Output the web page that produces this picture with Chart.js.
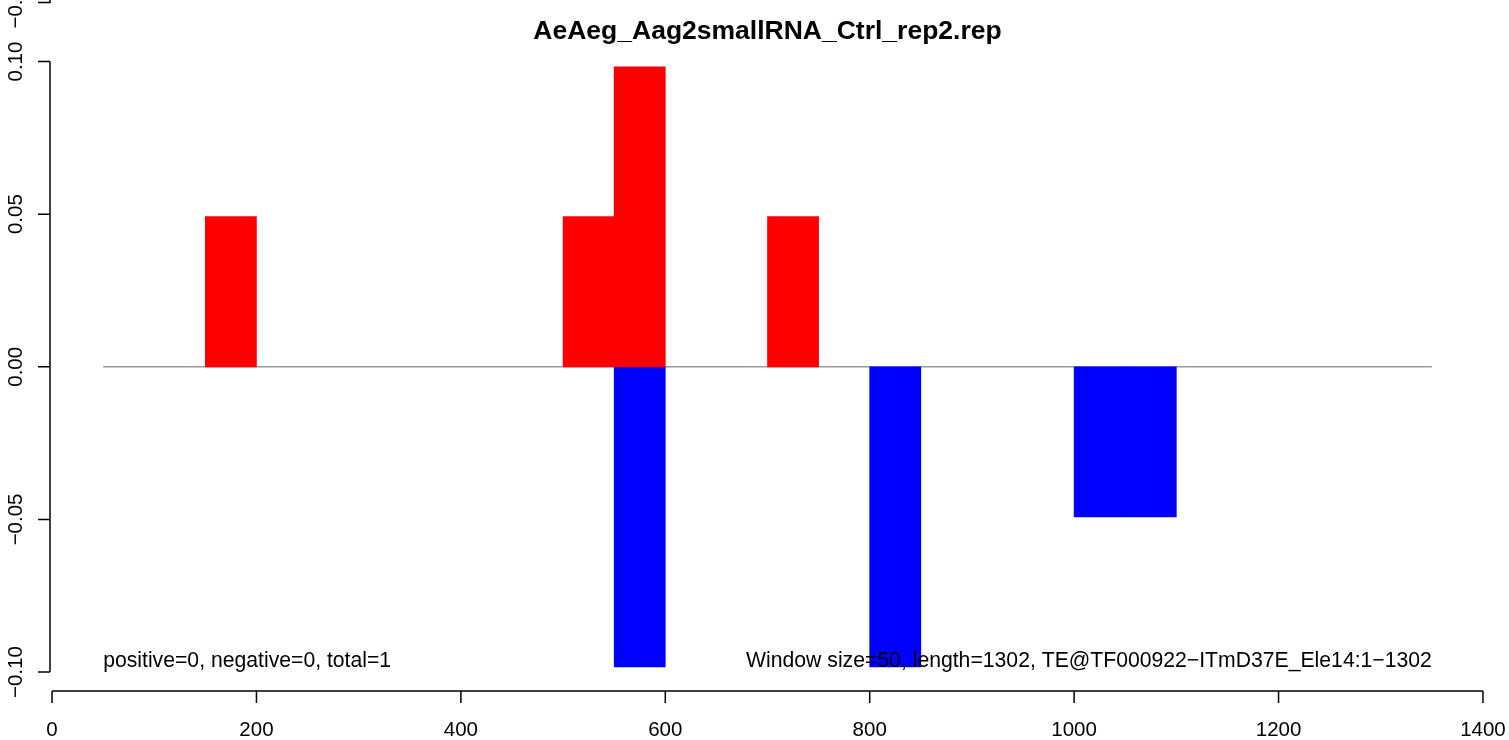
<!DOCTYPE html>
<html><head><meta charset="utf-8">
<script src="https://cdn.jsdelivr.net/npm/chart.js@4/dist/chart.umd.min.js"></script>
<style>html,body{margin:0;padding:0;background:#fff;overflow:hidden;}</style>
</head><body>
<canvas id="c" width="1509" height="740"></canvas>
<script>
// ---- data ----
const chartTitle = 'AeAeg_Aag2smallRNA_Ctrl_rep2.rep';
const windowSize = 50;
const senseStarts = [150, 500, 550, 700];
const senseValues = [0.0492, 0.0492, 0.0983, 0.0492];
const antisenseStarts = [550, 800, 1000, 1050];
const antisenseValues = [-0.0983, -0.0983, -0.0492, -0.0492];
const baselineX = [50, 1350];
const xTickValues = [0, 200, 400, 600, 800, 1000, 1200, 1400];
const xTickLabels = ['0', '200', '400', '600', '800', '1000', '1200', '1400'];
const yTickValues = [-0.10, -0.05, 0, 0.05, 0.10];
const yTickLabels = ['\u22120.10', '\u22120.05', '0.00', '0.05', '0.10'];
const xLimits = [-2, 1402];
const yLimits = [-0.1062, 0.1062];
const leftNote = 'positive=0, negative=0, total=1';
const rightNote = 'Window size=50, length=1302, TE@TF000922\u2212ITmD37E_Ele14:1\u22121302';
const noteAnchorsX = [50, 1350];
const noteAnchorY = -0.0983;
const neighbourTickLabel = '\u22120.10';

const FONT = '"Liberation Sans", Arial, Helvetica, sans-serif';

const toPoints = (starts, vals) => starts.map((s, i) => ({x: s + windowSize / 2, y: vals[i]}));

const rAxes = {
  id: 'rAxes',
  afterDraw(chart) {
    const {ctx, chartArea: ca, scales: {x, y}} = chart;
    ctx.save();
    ctx.strokeStyle = '#000';
    ctx.fillStyle = '#000';
    ctx.lineWidth = 1.5;
    ctx.lineCap = 'butt';
    const tl = 12;
    // x axis
    const yb = ca.bottom;
    ctx.beginPath();
    ctx.moveTo(x.getPixelForValue(xTickValues[0]), yb);
    ctx.lineTo(x.getPixelForValue(xTickValues[xTickValues.length - 1]), yb);
    xTickValues.forEach(v => { const p = x.getPixelForValue(v); ctx.moveTo(p, yb); ctx.lineTo(p, yb + tl); });
    ctx.stroke();
    ctx.font = '20.5px ' + FONT;
    ctx.textAlign = 'center';
    ctx.textBaseline = 'alphabetic';
    xTickValues.forEach((v, i) => ctx.fillText(xTickLabels[i], x.getPixelForValue(v), yb + 45));
    // y axis
    const xl = ca.left;
    ctx.beginPath();
    ctx.moveTo(xl, y.getPixelForValue(yTickValues[0]));
    ctx.lineTo(xl, y.getPixelForValue(yTickValues[yTickValues.length - 1]));
    yTickValues.forEach(v => { const p = y.getPixelForValue(v); ctx.moveTo(xl - tl, p); ctx.lineTo(xl, p); });
    // neighbouring panel's bottom tick, clipped at the top edge
    const gy = ca.top - 40;
    ctx.moveTo(xl - tl, gy); ctx.lineTo(xl, gy); ctx.lineTo(xl, -2);
    ctx.stroke();
    const drawRot = (txt, py) => {
      ctx.save();
      ctx.translate(xl - 28.5, py);
      ctx.rotate(-Math.PI / 2);
      ctx.textAlign = 'center';
      ctx.textBaseline = 'alphabetic';
      ctx.fillText(txt, 0, 0);
      ctx.restore();
    };
    yTickValues.forEach((v, i) => drawRot(yTickLabels[i], y.getPixelForValue(v)));
    drawRot(neighbourTickLabel, gy);
    // notes
    ctx.font = '21.2px ' + FONT;
    const ny = y.getPixelForValue(noteAnchorY);
    ctx.textAlign = 'left';
    ctx.fillText(leftNote, x.getPixelForValue(noteAnchorsX[0]), ny);
    ctx.textAlign = 'right';
    ctx.fillText(rightNote, x.getPixelForValue(noteAnchorsX[1]), ny);
    ctx.restore();
  }
};

const keepTicks = vals => scale => { scale.ticks = vals.map(v => ({value: v})); };

new Chart(document.getElementById('c'), {
  type: 'bar',
  data: {
    datasets: [
      {
        type: 'line',
        data: baselineX.map(v => ({x: v, y: 0})),
        borderColor: '#9a9a9a',
        borderWidth: 1.5,
        pointRadius: 0,
        order: 3
      },
      {
        data: toPoints(senseStarts, senseValues),
        backgroundColor: '#ff0000',
        borderWidth: 0,
        grouped: false,
        barPercentage: 1,
        categoryPercentage: 1,
        order: 1
      },
      {
        data: toPoints(antisenseStarts, antisenseValues),
        backgroundColor: '#0000ff',
        borderWidth: 0,
        grouped: false,
        barPercentage: 1,
        categoryPercentage: 1,
        order: 2
      }
    ]
  },
  options: {
    responsive: false,
    devicePixelRatio: 1,
    animation: false,
    events: [],
    layout: {padding: {left: 50, right: 24, top: 0, bottom: 49}},
    plugins: {
      legend: {display: false},
      tooltip: {enabled: false},
      title: {
        display: true,
        text: chartTitle,
        color: '#000',
        font: {family: FONT, size: 26.5, weight: 'bold', lineHeight: 0.7},
        padding: {top: 22.7, bottom: 1.35}
      }
    },
    scales: {
      x: {
        type: 'linear', min: xLimits[0], max: xLimits[1], offset: false,
        afterBuildTicks: keepTicks(xTickValues),
        afterFit: s => { s.height = 0; s.paddingLeft = 0; s.paddingRight = 0; },
        grid: {display: false, offset: false}, border: {display: false}, ticks: {display: false}
      },
      y: {
        type: 'linear', min: yLimits[0], max: yLimits[1],
        afterBuildTicks: keepTicks(yTickValues),
        afterFit: s => { s.width = 0; s.paddingTop = 0; s.paddingBottom = 0; },
        grid: {display: false}, border: {display: false}, ticks: {display: false}
      }
    }
  },
  plugins: [rAxes]
});
</script>
</body></html>
